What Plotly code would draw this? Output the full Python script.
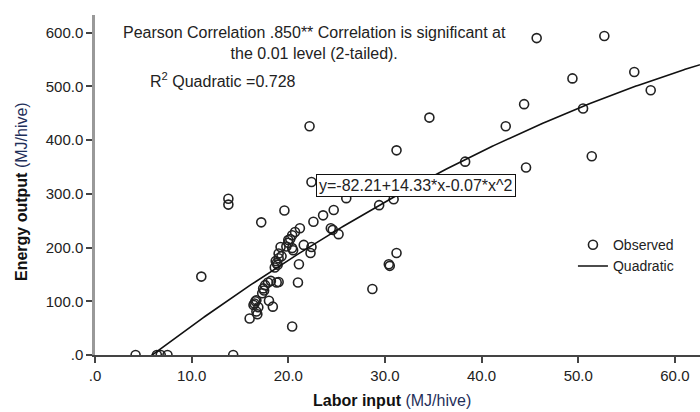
import numpy as np
import plotly.graph_objects as go

# Observed data (Labor input MJ/hive, Energy output MJ/hive)
labor = [4.2, 6.4, 6.8, 7.5, 14.3,
         11.0, 13.8, 13.8,
         16.0, 16.4, 16.6, 16.7, 16.7, 16.9, 16.5, 16.8,
         17.2, 17.3, 17.4, 17.5, 17.6,
         17.9, 18.0, 18.4, 18.2, 18.8, 19.0,
         18.6, 18.8, 18.7, 19.0, 18.9,
         19.0, 19.2, 19.3, 19.6,
         19.8, 20.0, 20.0, 20.2, 20.4, 20.7, 20.4, 20.5, 20.4,
         21.0, 21.1, 21.2, 21.6,
         22.2, 22.4, 22.3, 22.4,
         22.6, 23.6, 24.7, 24.4, 24.6, 25.2, 26.0,
         28.7, 29.4, 30.4, 30.5, 30.9, 31.2, 31.2,
         34.6, 38.3, 42.5, 44.4, 44.6, 45.7,
         49.4, 50.5, 51.4, 52.7, 55.8, 57.5]
energy = [0, 0, 0, 0, 0,
          146, 291, 280,
          68, 93, 100, 102, 81, 89, 96, 76,
          247, 115, 124, 120, 130,
          135, 101, 90, 138, 135, 136,
          163, 171, 175, 180, 168,
          189, 201, 184, 269,
          202, 209, 214, 216, 223, 229, 199, 195, 53,
          135, 169, 236, 205,
          426, 322, 190, 201,
          248, 260, 270, 236, 233, 225, 292,
          123, 279, 169, 166, 290, 381, 190,
          442, 360, 426, 467, 349, 590,
          515, 459, 370, 594, 527, 493]

# Quadratic fit coefficients (as reported)
b0, b1, b2 = -82.21, 14.33, -0.07

x_ticks = [0, 10, 20, 30, 40, 50, 60]
x_tick_labels = [".0", "10.0", "20.0", "30.0", "40.0", "50.0", "60.0"]
y_ticks = [0, 100, 200, 300, 400, 500, 600]
y_tick_labels = [".0", "100.0", "200.0", "300.0", "400.0", "500.0", "600.0"]

FONT = "Liberation Sans, Arial, sans-serif"
X_MAX, Y_MAX = 62.6, 633

xs = np.linspace(5.5, 64, 300)
ys = b0 + b1 * xs + b2 * xs ** 2

fig = go.Figure()
fig.add_trace(go.Scatter(
    x=labor, y=energy, mode="markers", name="Observed",
    marker=dict(symbol="circle-open", size=9, color="#222",
                line=dict(width=1.6, color="#222")),
))
fig.add_trace(go.Scatter(
    x=xs, y=ys, mode="lines", name="Quadratic",
    line=dict(color="#111", width=1.6),
))

fig.update_layout(
    width=700, height=412,
    margin=dict(l=95, r=0, t=15, b=57),
    paper_bgcolor="white", plot_bgcolor="white",
    font=dict(family=FONT, size=15, color="#222"),
    legend=dict(x=0.79, y=0.37, xanchor="left", yanchor="top",
                bgcolor="rgba(0,0,0,0)", font=dict(size=14, color="#222"),
                tracegroupgap=0, itemwidth=30),
    xaxis=dict(range=[0, X_MAX], tickvals=x_ticks, ticktext=x_tick_labels,
               showgrid=False, zeroline=False, showline=True,
               linecolor="#444", linewidth=1.5, ticks="outside",
               ticklen=6, tickwidth=1.5, tickcolor="#444",
               tickfont=dict(size=15, color="#222")),
    yaxis=dict(range=[0, Y_MAX], tickvals=y_ticks, ticktext=y_tick_labels,
               showgrid=False, zeroline=False, showline=True,
               linecolor="#999", linewidth=2.5, ticks="outside",
               ticklen=6, tickwidth=1.5, tickcolor="#444",
               tickfont=dict(size=15, color="#222")),
    showlegend=True,
)

fig.add_annotation(
    xref="paper", yref="paper", x=(314 - 95) / 605, y=(355 - 43) / 340,
    text="Pearson Correlation .850** Correlation is significant at<br>the 0.01 level (2-tailed).",
    showarrow=False, align="center", xanchor="center", yanchor="middle",
    font=dict(size=16, color="#222", family=FONT))
fig.add_annotation(
    xref="paper", yref="paper", x=(148 - 95) / 605, y=(355 - 80) / 340,
    text="R<sup>2</sup> Quadratic =0.728",
    showarrow=False, xanchor="left", yanchor="middle",
    font=dict(size=16, color="#222", family=FONT))
fig.add_annotation(
    xref="paper", yref="paper", x=(416 - 95) / 605, y=(355 - 185) / 340,
    text="y=-82.21+14.33*x-0.07*x^2",
    showarrow=False, xanchor="center", yanchor="middle",
    bgcolor="white", bordercolor="#111", borderwidth=1, borderpad=2,
    font=dict(size=16, color="#222", family=FONT))
fig.add_annotation(
    xref="paper", yref="paper", x=(392 - 95) / 605, y=(355 - 400) / 340,
    text="<b>Labor input</b> <span style='color:#1f2f5a'>(MJ/hive)</span>",
    showarrow=False, xanchor="center", yanchor="middle",
    font=dict(size=16, color="#111", family=FONT))
fig.add_annotation(
    xref="paper", yref="paper", x=-(95 - 22) / 605, y=(355 - 192) / 340,
    text="<b>Energy output</b> <span style='color:#1f2f5a'>(MJ/hive)</span>",
    showarrow=False, xanchor="center", yanchor="middle", textangle=-90,
    font=dict(size=16, color="#111", family=FONT))

fig.write_html("out.html")
